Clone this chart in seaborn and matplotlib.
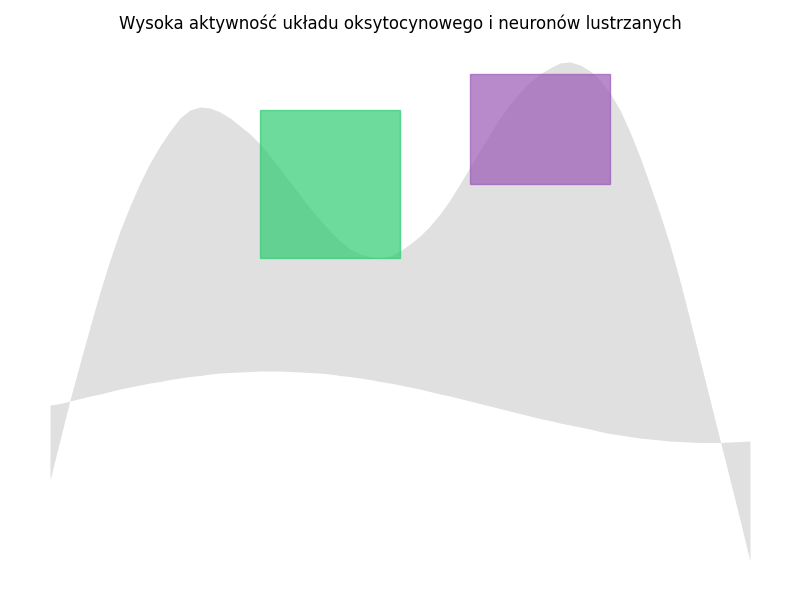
import numpy as np
import matplotlib
matplotlib.use("Agg")
import matplotlib.pyplot as plt
from matplotlib.patches import Rectangle
import seaborn as sns

# x positions of the sampled band (71 samples across the width)
x = np.linspace(0, 10, 71)

# upper edge of the grey band (two humps)
upper = [1.62, 2.42, 3.22, 3.96, 4.68, 5.38, 6.02, 6.60, 7.10, 7.56,
         7.96, 8.30, 8.60, 8.86, 9.02, 9.08, 9.06, 8.98, 8.86, 8.70,
         8.54, 8.34, 8.10, 7.84, 7.58, 7.32, 7.06, 6.82, 6.60, 6.40,
         6.24, 6.14, 6.08, 6.06, 6.10, 6.20, 6.34, 6.50, 6.70, 6.94,
         7.22, 7.54, 7.88, 8.22, 8.54, 8.86, 9.14, 9.38, 9.58, 9.74,
         9.86, 9.96, 9.98, 9.92, 9.80, 9.62, 9.36, 9.02, 8.58, 8.08,
         7.52, 6.94, 6.32, 5.60, 4.82, 4.02, 3.22, 2.42, 1.62, 0.82,
         0.00]

# lower edge of the grey band (gentle wave)
lower = [3.12, 3.15, 3.20, 3.25, 3.30, 3.34, 3.39, 3.44, 3.48, 3.52,
         3.56, 3.59, 3.63, 3.66, 3.69, 3.71, 3.74, 3.76, 3.77, 3.78,
         3.79, 3.80, 3.80, 3.80, 3.79, 3.78, 3.77, 3.76, 3.74, 3.71,
         3.69, 3.66, 3.63, 3.59, 3.56, 3.52, 3.48, 3.44, 3.39, 3.34,
         3.30, 3.25, 3.20, 3.15, 3.10, 3.05, 3.00, 2.95, 2.90, 2.85,
         2.81, 2.76, 2.72, 2.68, 2.64, 2.59, 2.55, 2.52, 2.49, 2.46,
         2.44, 2.42, 2.40, 2.39, 2.38, 2.37, 2.37, 2.37, 2.38, 2.39,
         2.40]

# highlighted boxes: x start, x end, y bottom, y top, colour
box_x0 = [3.0, 6.0]
box_x1 = [5.0, 8.0]
box_y0 = [6.06, 7.54]
box_y1 = [9.02, 9.74]
box_colors = ["#2ecc71", "#9b59b6"]

title = "Wysoka aktywność układu oksytocynowego i neuronów lustrzanych"

sns.set_style("white")
plt.rcParams['font.family'] = ['DejaVu Sans']

fig = plt.figure(figsize=(8, 6), dpi=100)
ax = fig.add_axes([15 / 800, 14 / 600, 770 / 800, 549 / 600])

ax.fill_between(x, lower, upper, color="lightgray", alpha=0.7, linewidth=0)

for x0, x1, y0, y1, c in zip(box_x0, box_x1, box_y0, box_y1, box_colors):
    ax.add_patch(Rectangle((x0, y0), x1 - x0, y1 - y0, color=c, alpha=0.7))

ax.margins(0.05)
ax.set_title(title, fontsize=12, color="black")
ax.axis("off")

plt.savefig("out.png", dpi=100)
